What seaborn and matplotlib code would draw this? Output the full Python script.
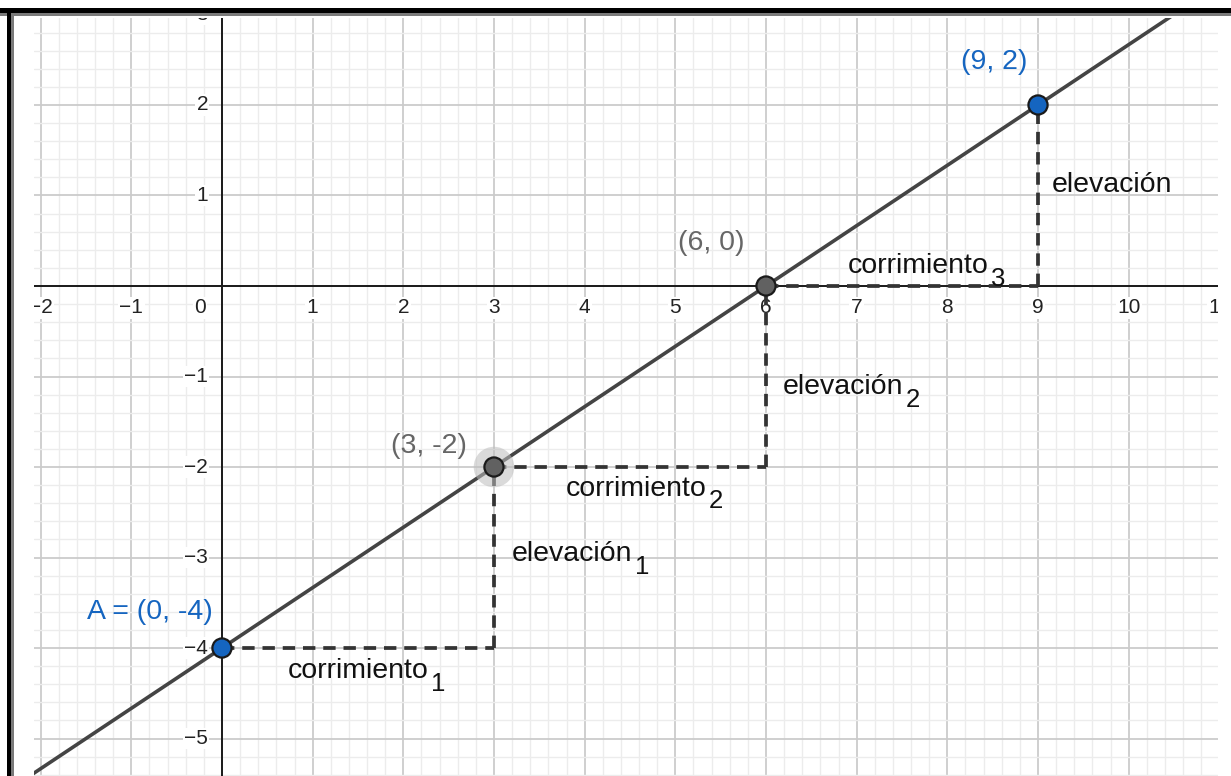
import numpy as np
import pandas as pd
import seaborn as sns
import matplotlib.pyplot as plt
from matplotlib.patches import Rectangle

# --- data ---
point_x = [0, 3, 6, 9]
point_y = [-4, -2, 0, 2]
point_labels = ['A = (0, -4)', '(3, -2)', '(6, 0)', '(9, 2)']
point_kind = ['free', 'dep', 'dep', 'free']
slope = 2 / 3
intercept = -4

run_names = ['corrimiento', 'corrimiento', 'corrimiento']
run_subs = ['1', '2', '3']
rise_names = ['elevación', 'elevación', 'elevación']
rise_subs = ['1', '2', '']

x_ticks = list(range(-2, 12))
y_ticks = [-5, -4, -3, -2, -1, 1, 2, 3]

# --- style ---
sns.set_theme(style='white')
plt.rcParams['font.family'] = ['Liberation Sans', 'DejaVu Sans']

W, H = 1231, 776
fig = plt.figure(figsize=(W / 100, H / 100), dpi=100)
ax = fig.add_axes([34 / W, 0, (1218 - 34) / W, (776 - 18) / H])
XLIM = (-2.073, 10.985)
YLIM = (-5.414, 2.961)

# grid
ax.set_xticks(np.arange(-2, 12, 1))
ax.set_yticks(np.arange(-5, 4, 1))
ax.set_xticks(np.arange(-2.2, 11.2, 0.2), minor=True)
ax.set_yticks(np.arange(-5.4, 3.2, 0.2), minor=True)
ax.grid(which='minor', color='#ececec', lw=1.0)
ax.grid(which='major', color='#cbcbcb', lw=1.3)
ax.tick_params(which='both', length=0, labelbottom=False, labelleft=False)
for s in ax.spines.values():
    s.set_visible(False)
ax.set_axisbelow(True)

# axes
ax.axhline(0, color='#1a1a1a', lw=1.4, zorder=1)
ax.axvline(0, color='#1a1a1a', lw=1.4, zorder=1)

# tick labels
lab_kw = dict(fontsize=15, color='#222222', clip_on=True, zorder=2,
              bbox=dict(facecolor='white', edgecolor='none', pad=1.0))
for v in x_ticks:
    xx = -0.243 if v == 0 else v
    ax.text(xx, -0.243, str(v).replace('-', '\u2212'), ha='center', va='center', **lab_kw)
for v in y_ticks:
    ax.text(-0.154, v, str(v).replace('-', '\u2212'), ha='right', va='center', **lab_kw)

# dashed run / rise segments
dash_kw = dict(color='#333333', lw=2.7, ls=(0, (3.3, 2.1)), zorder=3)
for i in range(len(point_x) - 1):
    ax.plot([point_x[i], point_x[i + 1]], [point_y[i], point_y[i]], **dash_kw)
    ax.plot([point_x[i + 1], point_x[i + 1]], [point_y[i], point_y[i + 1]], **dash_kw)

# main line
lx = np.array([-2.5, 11.5])
line_df = pd.DataFrame({'x': lx, 'y': slope * lx + intercept})
sns.lineplot(data=line_df, x='x', y='y', color='#444444', lw=2.6, ax=ax, zorder=4)

# points
pts = pd.DataFrame({'x': point_x, 'y': point_y, 'kind': point_kind})
ax.scatter([point_x[1]], [point_y[1]], s=850, color='#bdbdbd', alpha=0.55,
           edgecolor='none', zorder=5)
sns.scatterplot(data=pts, x='x', y='y', hue='kind',
                palette={'free': '#1565c0', 'dep': '#616161'},
                s=190, edgecolor='#1a1a1a', linewidth=1.6, legend=False,
                ax=ax, zorder=6)
ax.set_xlabel('')
ax.set_ylabel('')
ax.set_xlim(*XLIM)
ax.set_ylim(*YLIM)

# point labels
pl_pos = [(-0.1, -3.60, 'right'), (2.283, -1.768, 'center'),
          (5.393, 0.475, 'center'), (8.515, 2.475, 'center')]
pl_col = {'free': '#1565c0', 'dep': '#666666'}
for (tx, ty, ha), lab, k in zip(pl_pos, point_labels, point_kind):
    ax.text(tx, ty, lab, ha=ha, va='center', fontsize=20.5, color=pl_col[k], zorder=7)

# segment labels (main text + large subscript)
def seg_label(x, y, main, sub):
    t = ax.text(x, y, main, ha='left', va='baseline', fontsize=20.5,
                color='#111111', zorder=7)
    if sub:
        ax.annotate(sub, xy=(1, 0), xycoords=t, xytext=(1.5, -5),
                    textcoords='offset points', ha='left', va='baseline',
                    fontsize=18.5, color='#111111', zorder=7)

run_pos = [(0.728, -4.331), (3.794, -2.315), (6.904, 0.144)]
rise_pos = [(3.198, -3.04), (6.187, -1.193), (9.154, 1.039)]
for (x, y), m, s in zip(run_pos, run_names, run_subs):
    seg_label(x, y, m, s)
for (x, y), m, s in zip(rise_pos, rise_names, rise_subs):
    seg_label(x, y, m, s)

# screenshot frame (top and left edges)
fig.add_artist(Rectangle((0, 1 - 13 / H), 1, 5 / H, transform=fig.transFigure,
                         color='#000000', lw=0))
fig.add_artist(Rectangle((0, 1 - 16 / H), 1, 3 / H, transform=fig.transFigure,
                         color='#7a7a7a', lw=0))
fig.add_artist(Rectangle((7 / W, 0), 4 / W, 1 - 8 / H, transform=fig.transFigure,
                         color='#000000', lw=0))
fig.add_artist(Rectangle((11 / W, 0), 3 / W, 1 - 13 / H, transform=fig.transFigure,
                         color='#7a7a7a', lw=0))

fig.savefig('out.png', dpi=100)
